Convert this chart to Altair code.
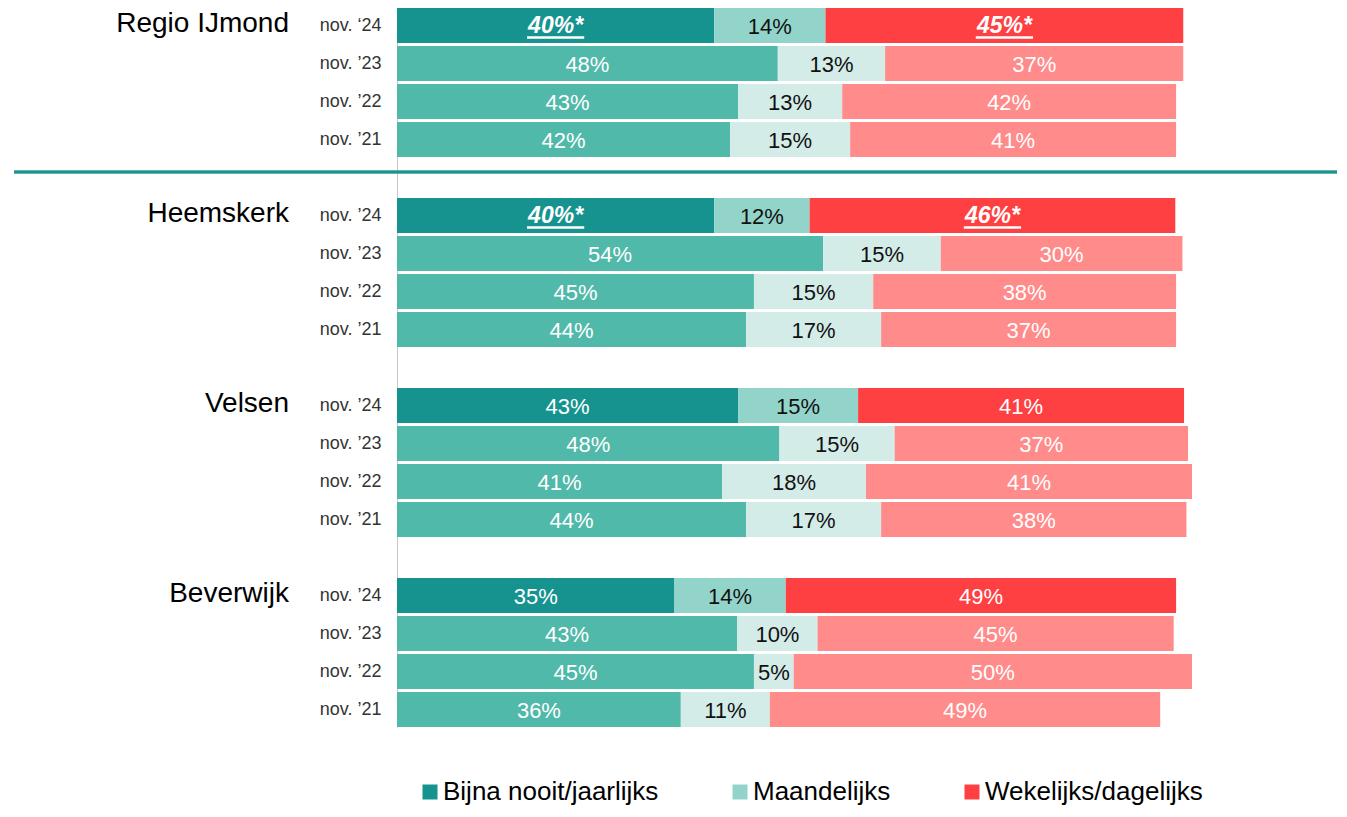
import altair as alt
import pandas as pd

# ---------------- data ----------------
groups = ["Regio IJmond", "Heemskerk", "Velsen", "Beverwijk"]
year_labels = [
    ["nov. \u201824", "nov. \u201923", "nov. \u201922", "nov. \u201921"],
    ["nov. \u201924", "nov. \u201923", "nov. \u201922", "nov. \u201921"],
    ["nov. \u201924", "nov. \u201923", "nov. \u201922", "nov. \u201921"],
    ["nov. \u201924", "nov. \u201923", "nov. \u201922", "nov. \u201921"],
]
categories = ["Bijna nooit/jaarlijks", "Maandelijks", "Wekelijks/dagelijks"]

# bar lengths (percent)
regio_values = [[39.9, 14.0, 45.0], [47.9, 13.5, 37.5], [42.9, 13.1, 42.0], [41.9, 15.1, 41.0]]
heemskerk_values = [[39.9, 12.0, 46.0], [53.6, 14.8, 30.4], [44.9, 15.0, 38.1], [43.9, 17.0, 37.1]]
velsen_values = [[42.9, 15.1, 41.0], [48.1, 14.5, 36.9], [40.9, 18.1, 41.0], [43.9, 17.0, 38.4]]
beverwijk_values = [[34.9, 14.0, 49.1], [42.8, 10.1, 44.8], [44.9, 5.0, 50.1], [35.7, 11.2, 49.1]]
all_values = [regio_values, heemskerk_values, velsen_values, beverwijk_values]

# printed labels
regio_labels = [[40, 14, 45], [48, 13, 37], [43, 13, 42], [42, 15, 41]]
heemskerk_labels = [[40, 12, 46], [54, 15, 30], [45, 15, 38], [44, 17, 37]]
velsen_labels = [[43, 15, 41], [48, 15, 37], [41, 18, 41], [44, 17, 38]]
beverwijk_labels = [[35, 14, 49], [43, 10, 45], [45, 5, 50], [36, 11, 49]]
all_labels = [regio_labels, heemskerk_labels, velsen_labels, beverwijk_labels]

# significant changes (bold italic, underlined, with asterisk): (group, row, category)
significant = [(0, 0, 0), (0, 0, 2), (1, 0, 0), (1, 0, 2)]

colors_current = ["#16938f", "#92d4ca", "#ff4043"]
colors_earlier = ["#51b9aa", "#d3ece8", "#ff8b8b"]

# ---------------- build table ----------------
rows = []
slot_domain = []
group_rows = []
for gi, g in enumerate(groups):
    for yi in range(4):
        slot = f"{gi}|{yi}|{year_labels[gi][yi]}"
        slot_domain.append(slot)
        if yi == 0:
            group_rows.append({"slot": slot, "group": g})
        for ci, cat in enumerate(categories):
            v = all_values[gi][yi][ci]
            lab = all_labels[gi][yi][ci]
            sig = (gi, yi, ci) in significant
            rows.append({
                "slot": slot,
                "ci": ci,
                "value": v,
                "label": f"{lab}%" + ("*" if sig else ""),
                "sig": sig,
                "ckey": cat if yi == 0 else cat + " (eerder)",
            })
    if gi < len(groups) - 1:
        slot_domain.append(f"gap{gi}")

df = pd.DataFrame(rows)
gdf = pd.DataFrame(group_rows)

color_domain = categories + [c + " (eerder)" for c in categories]
color_range = colors_current + colors_earlier

FONT = "Liberation Sans"

yenc = alt.Y(
    "slot:N",
    scale=alt.Scale(domain=slot_domain, paddingInner=3 / 38, paddingOuter=0),
    axis=alt.Axis(
        title=None,
        ticks=False,
        labelFontSize=18,
        labelColor="#333333",
        labelPadding=16,
        labelLimit=300,
        domainColor="#c8c8c8",
        domainWidth=1,
        labelExpr="indexof(datum.label,'|') < 0 ? '' : split(datum.label,'|')[2]",
    ),
)
xscale = alt.Scale(domain=[0, 100], nice=False)

base = alt.Chart(df).transform_stack(
    stack="value",
    groupby=["slot"],
    sort=[alt.SortField("ci", order="ascending")],
    as_=["v0", "v1"],
).transform_calculate(mid="(datum.v0 + datum.v1) / 2")

bars = base.mark_bar(cornerRadius=0).encode(
    y=yenc,
    x=alt.X("v0:Q", scale=xscale, axis=None),
    x2="v1:Q",
    color=alt.Color(
        "ckey:N",
        scale=alt.Scale(domain=color_domain, range=color_range),
        legend=alt.Legend(
            values=categories,
            title=None,
            orient="none",
            legendX=20,
            legendY=771,
            padding=0,
            direction="horizontal",
            symbolType="square",
            symbolSize=225,
            symbolStrokeWidth=0,
            labelFontSize=26,
            labelFont=FONT,
            labelColor="#000000",
            labelOffset=0,
            columnPadding=68,
            labelLimit=400,
        ),
    ),
)

text_color = alt.condition("datum.ci == 1", alt.value("#111111"), alt.value("#ffffff"))

labels_plain = base.transform_filter("!datum.sig").mark_text(
    fontSize=22, baseline="middle", align="center", dy=1
).encode(y=yenc, x=alt.X("mid:Q", scale=xscale), text="label:N", color=text_color)

labels_sig = base.transform_filter("datum.sig").mark_text(
    fontSize=23, baseline="middle", align="center", dy=0,
    fontWeight="bold", fontStyle="italic",
).encode(y=yenc, x=alt.X("mid:Q", scale=xscale), text="label:N", color=alt.value("#ffffff"))

underline = base.transform_filter("datum.sig").transform_calculate(
    u1="datum.mid - 3.6", u2="datum.mid + 3.6"
).mark_rule(color="#ffffff", strokeWidth=2.5, yOffset=12).encode(
    y=yenc, x=alt.X("u1:Q", scale=xscale), x2="u2:Q"
)

group_text = alt.Chart(gdf).mark_text(
    fontSize=28, align="right", baseline="middle", dy=-2, color="#000000"
).encode(y=yenc, x=alt.value(-108), text="group:N")

separator = alt.Chart(gdf).mark_rule(color="#1a9590", strokeWidth=2.5).encode(
    x=alt.value(-383), x2=alt.value(942), y=alt.value(164)
)

chart = alt.layer(bars, labels_plain, labels_sig, underline, group_text, separator).properties(
    width=795,
    height=719,
    padding={"left": 389, "top": 0, "right": 145, "bottom": 82},
    autosize=alt.AutoSizeParams(type="none"),
    background="#ffffff",
).configure(font=FONT).configure_view(stroke=None)

chart.save("out.html", embed_options={"renderer": "svg", "actions": False})
